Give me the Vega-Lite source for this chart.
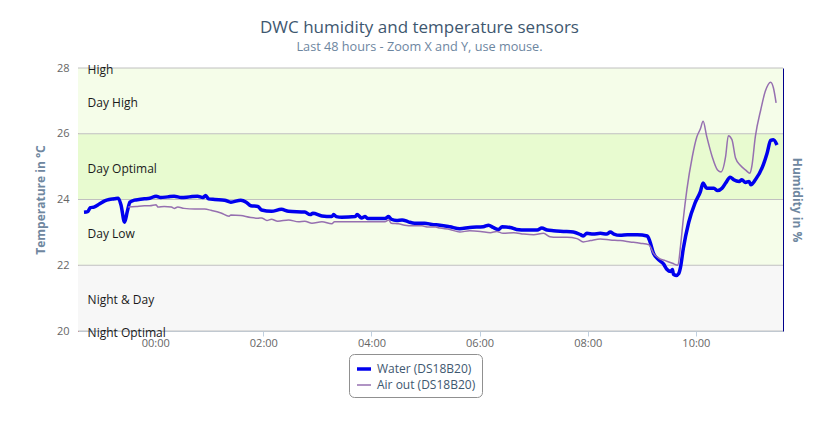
{
  "$schema": "https://vega.github.io/schema/vega-lite/v6.json",
  "width": 705,
  "height": 263,
  "autosize": {"type": "none"},
  "padding": {"left": 78, "top": 68, "right": 52, "bottom": 96},
  "background": "white",
  "config": {"view": {"stroke": null}},
  "title": {
    "text": "DWC humidity and temperature sensors",
    "subtitle": "Last 48 hours - Zoom X and Y, use mouse.",
    "fontSize": 17,
    "fontWeight": "normal",
    "font": "Open Sans",
    "color": "#3e576f",
    "subtitleFont": "Open Sans",
    "subtitleColor": "#6d869f",
    "subtitleFontSize": 12.7,
    "subtitlePadding": 4,
    "offset": 7,
    "dx": -11,
    "anchor": "middle"
  },
  "datasets": {
    "bandrows": [
      {"band": "Day High", "lo": 26, "hi": 28},
      {"band": "Day Optimal", "lo": 24, "hi": 26},
      {"band": "Day Low", "lo": 22, "hi": 24},
      {"band": "Night & Day", "lo": 20, "hi": 22}
    ],
    "gridrows": [{"v": 20}, {"v": 22}, {"v": 24}, {"v": 26}, {"v": 28}],
    "labelrows": [
      {"label": "High", "t": "2013-05-01T22:45", "v": 28},
      {"label": "Day High", "t": "2013-05-01T22:45", "v": 27},
      {"label": "Day Optimal", "t": "2013-05-01T22:45", "v": 25},
      {"label": "Day Low", "t": "2013-05-01T22:45", "v": 23},
      {"label": "Night & Day", "t": "2013-05-01T22:45", "v": 21},
      {"label": "Night Optimal", "t": "2013-05-01T22:45", "v": 20}
    ],
    "linerows": [
      {"s": "Water (DS18B20)", "t": "2013-05-01T22:41", "v": 23.61},
      {"s": "Water (DS18B20)", "t": "2013-05-01T22:45", "v": 23.63},
      {"s": "Water (DS18B20)", "t": "2013-05-01T22:48", "v": 23.75},
      {"s": "Water (DS18B20)", "t": "2013-05-01T22:52", "v": 23.77},
      {"s": "Water (DS18B20)", "t": "2013-05-01T22:58", "v": 23.86},
      {"s": "Water (DS18B20)", "t": "2013-05-01T23:04", "v": 23.96},
      {"s": "Water (DS18B20)", "t": "2013-05-01T23:09", "v": 24.0},
      {"s": "Water (DS18B20)", "t": "2013-05-01T23:15", "v": 24.02},
      {"s": "Water (DS18B20)", "t": "2013-05-01T23:19", "v": 24.04},
      {"s": "Water (DS18B20)", "t": "2013-05-01T23:22", "v": 23.84},
      {"s": "Water (DS18B20)", "t": "2013-05-01T23:26", "v": 23.31},
      {"s": "Water (DS18B20)", "t": "2013-05-01T23:29", "v": 23.63},
      {"s": "Water (DS18B20)", "t": "2013-05-01T23:32", "v": 23.92},
      {"s": "Water (DS18B20)", "t": "2013-05-01T23:37", "v": 23.98},
      {"s": "Water (DS18B20)", "t": "2013-05-01T23:42", "v": 24.0},
      {"s": "Water (DS18B20)", "t": "2013-05-01T23:48", "v": 24.02},
      {"s": "Water (DS18B20)", "t": "2013-05-01T23:54", "v": 24.04},
      {"s": "Water (DS18B20)", "t": "2013-05-02T00:01", "v": 24.1},
      {"s": "Water (DS18B20)", "t": "2013-05-02T00:06", "v": 24.06},
      {"s": "Water (DS18B20)", "t": "2013-05-02T00:14", "v": 24.08},
      {"s": "Water (DS18B20)", "t": "2013-05-02T00:21", "v": 24.1},
      {"s": "Water (DS18B20)", "t": "2013-05-02T00:29", "v": 24.06},
      {"s": "Water (DS18B20)", "t": "2013-05-02T00:38", "v": 24.08},
      {"s": "Water (DS18B20)", "t": "2013-05-02T00:47", "v": 24.1},
      {"s": "Water (DS18B20)", "t": "2013-05-02T00:53", "v": 24.06},
      {"s": "Water (DS18B20)", "t": "2013-05-02T00:56", "v": 24.12},
      {"s": "Water (DS18B20)", "t": "2013-05-02T00:59", "v": 24.02},
      {"s": "Water (DS18B20)", "t": "2013-05-02T01:06", "v": 24.0},
      {"s": "Water (DS18B20)", "t": "2013-05-02T01:17", "v": 23.98},
      {"s": "Water (DS18B20)", "t": "2013-05-02T01:24", "v": 23.92},
      {"s": "Water (DS18B20)", "t": "2013-05-02T01:35", "v": 23.98},
      {"s": "Water (DS18B20)", "t": "2013-05-02T01:41", "v": 23.92},
      {"s": "Water (DS18B20)", "t": "2013-05-02T01:46", "v": 23.81},
      {"s": "Water (DS18B20)", "t": "2013-05-02T01:54", "v": 23.79},
      {"s": "Water (DS18B20)", "t": "2013-05-02T01:58", "v": 23.68},
      {"s": "Water (DS18B20)", "t": "2013-05-02T02:09", "v": 23.64},
      {"s": "Water (DS18B20)", "t": "2013-05-02T02:20", "v": 23.7},
      {"s": "Water (DS18B20)", "t": "2013-05-02T02:28", "v": 23.64},
      {"s": "Water (DS18B20)", "t": "2013-05-02T02:46", "v": 23.62},
      {"s": "Water (DS18B20)", "t": "2013-05-02T02:52", "v": 23.54},
      {"s": "Water (DS18B20)", "t": "2013-05-02T02:55", "v": 23.58},
      {"s": "Water (DS18B20)", "t": "2013-05-02T03:05", "v": 23.5},
      {"s": "Water (DS18B20)", "t": "2013-05-02T03:16", "v": 23.48},
      {"s": "Water (DS18B20)", "t": "2013-05-02T03:18", "v": 23.54},
      {"s": "Water (DS18B20)", "t": "2013-05-02T03:21", "v": 23.48},
      {"s": "Water (DS18B20)", "t": "2013-05-02T03:27", "v": 23.46},
      {"s": "Water (DS18B20)", "t": "2013-05-02T03:42", "v": 23.48},
      {"s": "Water (DS18B20)", "t": "2013-05-02T03:44", "v": 23.54},
      {"s": "Water (DS18B20)", "t": "2013-05-02T03:49", "v": 23.44},
      {"s": "Water (DS18B20)", "t": "2013-05-02T03:53", "v": 23.48},
      {"s": "Water (DS18B20)", "t": "2013-05-02T03:56", "v": 23.42},
      {"s": "Water (DS18B20)", "t": "2013-05-02T04:15", "v": 23.42},
      {"s": "Water (DS18B20)", "t": "2013-05-02T04:19", "v": 23.48},
      {"s": "Water (DS18B20)", "t": "2013-05-02T04:22", "v": 23.4},
      {"s": "Water (DS18B20)", "t": "2013-05-02T04:28", "v": 23.36},
      {"s": "Water (DS18B20)", "t": "2013-05-02T04:34", "v": 23.38},
      {"s": "Water (DS18B20)", "t": "2013-05-02T04:41", "v": 23.32},
      {"s": "Water (DS18B20)", "t": "2013-05-02T04:48", "v": 23.28},
      {"s": "Water (DS18B20)", "t": "2013-05-02T04:59", "v": 23.28},
      {"s": "Water (DS18B20)", "t": "2013-05-02T05:07", "v": 23.24},
      {"s": "Water (DS18B20)", "t": "2013-05-02T05:16", "v": 23.22},
      {"s": "Water (DS18B20)", "t": "2013-05-02T05:27", "v": 23.17},
      {"s": "Water (DS18B20)", "t": "2013-05-02T05:38", "v": 23.11},
      {"s": "Water (DS18B20)", "t": "2013-05-02T05:49", "v": 23.15},
      {"s": "Water (DS18B20)", "t": "2013-05-02T06:04", "v": 23.17},
      {"s": "Water (DS18B20)", "t": "2013-05-02T06:10", "v": 23.22},
      {"s": "Water (DS18B20)", "t": "2013-05-02T06:15", "v": 23.15},
      {"s": "Water (DS18B20)", "t": "2013-05-02T06:21", "v": 23.09},
      {"s": "Water (DS18B20)", "t": "2013-05-02T06:25", "v": 23.17},
      {"s": "Water (DS18B20)", "t": "2013-05-02T06:34", "v": 23.15},
      {"s": "Water (DS18B20)", "t": "2013-05-02T06:41", "v": 23.09},
      {"s": "Water (DS18B20)", "t": "2013-05-02T06:52", "v": 23.07},
      {"s": "Water (DS18B20)", "t": "2013-05-02T07:04", "v": 23.07},
      {"s": "Water (DS18B20)", "t": "2013-05-02T07:09", "v": 23.13},
      {"s": "Water (DS18B20)", "t": "2013-05-02T07:15", "v": 23.07},
      {"s": "Water (DS18B20)", "t": "2013-05-02T07:22", "v": 23.05},
      {"s": "Water (DS18B20)", "t": "2013-05-02T07:33", "v": 23.03},
      {"s": "Water (DS18B20)", "t": "2013-05-02T07:44", "v": 23.01},
      {"s": "Water (DS18B20)", "t": "2013-05-02T07:52", "v": 22.93},
      {"s": "Water (DS18B20)", "t": "2013-05-02T07:55", "v": 22.89},
      {"s": "Water (DS18B20)", "t": "2013-05-02T07:59", "v": 22.97},
      {"s": "Water (DS18B20)", "t": "2013-05-02T08:06", "v": 22.95},
      {"s": "Water (DS18B20)", "t": "2013-05-02T08:14", "v": 22.97},
      {"s": "Water (DS18B20)", "t": "2013-05-02T08:21", "v": 22.95},
      {"s": "Water (DS18B20)", "t": "2013-05-02T08:25", "v": 23.01},
      {"s": "Water (DS18B20)", "t": "2013-05-02T08:29", "v": 22.95},
      {"s": "Water (DS18B20)", "t": "2013-05-02T08:36", "v": 22.91},
      {"s": "Water (DS18B20)", "t": "2013-05-02T08:44", "v": 22.93},
      {"s": "Water (DS18B20)", "t": "2013-05-02T08:55", "v": 22.93},
      {"s": "Water (DS18B20)", "t": "2013-05-02T09:06", "v": 22.89},
      {"s": "Water (DS18B20)", "t": "2013-05-02T09:09", "v": 22.72},
      {"s": "Water (DS18B20)", "t": "2013-05-02T09:13", "v": 22.36},
      {"s": "Water (DS18B20)", "t": "2013-05-02T09:19", "v": 22.16},
      {"s": "Water (DS18B20)", "t": "2013-05-02T09:24", "v": 22.04},
      {"s": "Water (DS18B20)", "t": "2013-05-02T09:28", "v": 21.87},
      {"s": "Water (DS18B20)", "t": "2013-05-02T09:32", "v": 21.81},
      {"s": "Water (DS18B20)", "t": "2013-05-02T09:34", "v": 21.87},
      {"s": "Water (DS18B20)", "t": "2013-05-02T09:35", "v": 21.73},
      {"s": "Water (DS18B20)", "t": "2013-05-02T09:38", "v": 21.69},
      {"s": "Water (DS18B20)", "t": "2013-05-02T09:41", "v": 21.75},
      {"s": "Water (DS18B20)", "t": "2013-05-02T09:43", "v": 21.95},
      {"s": "Water (DS18B20)", "t": "2013-05-02T09:46", "v": 22.5},
      {"s": "Water (DS18B20)", "t": "2013-05-02T09:52", "v": 23.3},
      {"s": "Water (DS18B20)", "t": "2013-05-02T09:59", "v": 23.89},
      {"s": "Water (DS18B20)", "t": "2013-05-02T10:05", "v": 24.24},
      {"s": "Water (DS18B20)", "t": "2013-05-02T10:08", "v": 24.5},
      {"s": "Water (DS18B20)", "t": "2013-05-02T10:12", "v": 24.34},
      {"s": "Water (DS18B20)", "t": "2013-05-02T10:20", "v": 24.34},
      {"s": "Water (DS18B20)", "t": "2013-05-02T10:24", "v": 24.27},
      {"s": "Water (DS18B20)", "t": "2013-05-02T10:29", "v": 24.34},
      {"s": "Water (DS18B20)", "t": "2013-05-02T10:33", "v": 24.5},
      {"s": "Water (DS18B20)", "t": "2013-05-02T10:38", "v": 24.68},
      {"s": "Water (DS18B20)", "t": "2013-05-02T10:42", "v": 24.6},
      {"s": "Water (DS18B20)", "t": "2013-05-02T10:48", "v": 24.55},
      {"s": "Water (DS18B20)", "t": "2013-05-02T10:51", "v": 24.6},
      {"s": "Water (DS18B20)", "t": "2013-05-02T10:55", "v": 24.52},
      {"s": "Water (DS18B20)", "t": "2013-05-02T10:59", "v": 24.55},
      {"s": "Water (DS18B20)", "t": "2013-05-02T11:01", "v": 24.45},
      {"s": "Water (DS18B20)", "t": "2013-05-02T11:06", "v": 24.6},
      {"s": "Water (DS18B20)", "t": "2013-05-02T11:14", "v": 25.0},
      {"s": "Water (DS18B20)", "t": "2013-05-02T11:19", "v": 25.41},
      {"s": "Water (DS18B20)", "t": "2013-05-02T11:23", "v": 25.8},
      {"s": "Water (DS18B20)", "t": "2013-05-02T11:26", "v": 25.82},
      {"s": "Water (DS18B20)", "t": "2013-05-02T11:30", "v": 25.66},
      {"s": "Air out (DS18B20)", "t": "2013-05-01T23:30", "v": 23.77},
      {"s": "Air out (DS18B20)", "t": "2013-05-01T23:39", "v": 23.79},
      {"s": "Air out (DS18B20)", "t": "2013-05-01T23:48", "v": 23.81},
      {"s": "Air out (DS18B20)", "t": "2013-05-01T23:54", "v": 23.81},
      {"s": "Air out (DS18B20)", "t": "2013-05-02T00:01", "v": 23.84},
      {"s": "Air out (DS18B20)", "t": "2013-05-02T00:03", "v": 23.77},
      {"s": "Air out (DS18B20)", "t": "2013-05-02T00:10", "v": 23.79},
      {"s": "Air out (DS18B20)", "t": "2013-05-02T00:18", "v": 23.77},
      {"s": "Air out (DS18B20)", "t": "2013-05-02T00:21", "v": 23.73},
      {"s": "Air out (DS18B20)", "t": "2013-05-02T00:25", "v": 23.77},
      {"s": "Air out (DS18B20)", "t": "2013-05-02T00:32", "v": 23.73},
      {"s": "Air out (DS18B20)", "t": "2013-05-02T00:44", "v": 23.71},
      {"s": "Air out (DS18B20)", "t": "2013-05-02T00:55", "v": 23.71},
      {"s": "Air out (DS18B20)", "t": "2013-05-02T01:02", "v": 23.67},
      {"s": "Air out (DS18B20)", "t": "2013-05-02T01:13", "v": 23.59},
      {"s": "Air out (DS18B20)", "t": "2013-05-02T01:22", "v": 23.49},
      {"s": "Air out (DS18B20)", "t": "2013-05-02T01:24", "v": 23.53},
      {"s": "Air out (DS18B20)", "t": "2013-05-02T01:35", "v": 23.51},
      {"s": "Air out (DS18B20)", "t": "2013-05-02T01:46", "v": 23.45},
      {"s": "Air out (DS18B20)", "t": "2013-05-02T01:54", "v": 23.43},
      {"s": "Air out (DS18B20)", "t": "2013-05-02T01:58", "v": 23.44},
      {"s": "Air out (DS18B20)", "t": "2013-05-02T02:04", "v": 23.36},
      {"s": "Air out (DS18B20)", "t": "2013-05-02T02:09", "v": 23.4},
      {"s": "Air out (DS18B20)", "t": "2013-05-02T02:16", "v": 23.34},
      {"s": "Air out (DS18B20)", "t": "2013-05-02T02:28", "v": 23.38},
      {"s": "Air out (DS18B20)", "t": "2013-05-02T02:39", "v": 23.32},
      {"s": "Air out (DS18B20)", "t": "2013-05-02T02:46", "v": 23.34},
      {"s": "Air out (DS18B20)", "t": "2013-05-02T02:54", "v": 23.28},
      {"s": "Air out (DS18B20)", "t": "2013-05-02T03:05", "v": 23.32},
      {"s": "Air out (DS18B20)", "t": "2013-05-02T03:16", "v": 23.26},
      {"s": "Air out (DS18B20)", "t": "2013-05-02T03:19", "v": 23.32},
      {"s": "Air out (DS18B20)", "t": "2013-05-02T03:42", "v": 23.32},
      {"s": "Air out (DS18B20)", "t": "2013-05-02T04:04", "v": 23.32},
      {"s": "Air out (DS18B20)", "t": "2013-05-02T04:15", "v": 23.32},
      {"s": "Air out (DS18B20)", "t": "2013-05-02T04:19", "v": 23.38},
      {"s": "Air out (DS18B20)", "t": "2013-05-02T04:22", "v": 23.28},
      {"s": "Air out (DS18B20)", "t": "2013-05-02T04:30", "v": 23.26},
      {"s": "Air out (DS18B20)", "t": "2013-05-02T04:37", "v": 23.22},
      {"s": "Air out (DS18B20)", "t": "2013-05-02T04:45", "v": 23.2},
      {"s": "Air out (DS18B20)", "t": "2013-05-02T04:56", "v": 23.2},
      {"s": "Air out (DS18B20)", "t": "2013-05-02T05:03", "v": 23.16},
      {"s": "Air out (DS18B20)", "t": "2013-05-02T05:11", "v": 23.16},
      {"s": "Air out (DS18B20)", "t": "2013-05-02T05:16", "v": 23.13},
      {"s": "Air out (DS18B20)", "t": "2013-05-02T05:27", "v": 23.09},
      {"s": "Air out (DS18B20)", "t": "2013-05-02T05:38", "v": 23.01},
      {"s": "Air out (DS18B20)", "t": "2013-05-02T05:49", "v": 23.05},
      {"s": "Air out (DS18B20)", "t": "2013-05-02T06:01", "v": 23.03},
      {"s": "Air out (DS18B20)", "t": "2013-05-02T06:12", "v": 22.99},
      {"s": "Air out (DS18B20)", "t": "2013-05-02T06:19", "v": 23.03},
      {"s": "Air out (DS18B20)", "t": "2013-05-02T06:26", "v": 22.97},
      {"s": "Air out (DS18B20)", "t": "2013-05-02T06:38", "v": 22.99},
      {"s": "Air out (DS18B20)", "t": "2013-05-02T06:49", "v": 22.95},
      {"s": "Air out (DS18B20)", "t": "2013-05-02T07:00", "v": 22.93},
      {"s": "Air out (DS18B20)", "t": "2013-05-02T07:11", "v": 22.97},
      {"s": "Air out (DS18B20)", "t": "2013-05-02T07:18", "v": 22.87},
      {"s": "Air out (DS18B20)", "t": "2013-05-02T07:26", "v": 22.85},
      {"s": "Air out (DS18B20)", "t": "2013-05-02T07:37", "v": 22.85},
      {"s": "Air out (DS18B20)", "t": "2013-05-02T07:48", "v": 22.81},
      {"s": "Air out (DS18B20)", "t": "2013-05-02T07:55", "v": 22.71},
      {"s": "Air out (DS18B20)", "t": "2013-05-02T08:03", "v": 22.75},
      {"s": "Air out (DS18B20)", "t": "2013-05-02T08:14", "v": 22.8},
      {"s": "Air out (DS18B20)", "t": "2013-05-02T08:25", "v": 22.77},
      {"s": "Air out (DS18B20)", "t": "2013-05-02T08:36", "v": 22.75},
      {"s": "Air out (DS18B20)", "t": "2013-05-02T08:47", "v": 22.71},
      {"s": "Air out (DS18B20)", "t": "2013-05-02T08:58", "v": 22.67},
      {"s": "Air out (DS18B20)", "t": "2013-05-02T09:08", "v": 22.62},
      {"s": "Air out (DS18B20)", "t": "2013-05-02T09:13", "v": 22.36},
      {"s": "Air out (DS18B20)", "t": "2013-05-02T09:19", "v": 22.21},
      {"s": "Air out (DS18B20)", "t": "2013-05-02T09:26", "v": 22.14},
      {"s": "Air out (DS18B20)", "t": "2013-05-02T09:34", "v": 22.06},
      {"s": "Air out (DS18B20)", "t": "2013-05-02T09:40", "v": 22.0},
      {"s": "Air out (DS18B20)", "t": "2013-05-02T09:43", "v": 22.6},
      {"s": "Air out (DS18B20)", "t": "2013-05-02T09:46", "v": 23.4},
      {"s": "Air out (DS18B20)", "t": "2013-05-02T09:50", "v": 24.3},
      {"s": "Air out (DS18B20)", "t": "2013-05-02T09:56", "v": 25.3},
      {"s": "Air out (DS18B20)", "t": "2013-05-02T10:01", "v": 25.9},
      {"s": "Air out (DS18B20)", "t": "2013-05-02T10:05", "v": 26.15},
      {"s": "Air out (DS18B20)", "t": "2013-05-02T10:08", "v": 26.38},
      {"s": "Air out (DS18B20)", "t": "2013-05-02T10:12", "v": 25.92},
      {"s": "Air out (DS18B20)", "t": "2013-05-02T10:18", "v": 25.31},
      {"s": "Air out (DS18B20)", "t": "2013-05-02T10:24", "v": 24.9},
      {"s": "Air out (DS18B20)", "t": "2013-05-02T10:28", "v": 24.84},
      {"s": "Air out (DS18B20)", "t": "2013-05-02T10:33", "v": 25.31},
      {"s": "Air out (DS18B20)", "t": "2013-05-02T10:36", "v": 25.94},
      {"s": "Air out (DS18B20)", "t": "2013-05-02T10:40", "v": 25.82},
      {"s": "Air out (DS18B20)", "t": "2013-05-02T10:44", "v": 25.26},
      {"s": "Air out (DS18B20)", "t": "2013-05-02T10:49", "v": 25.05},
      {"s": "Air out (DS18B20)", "t": "2013-05-02T10:55", "v": 24.9},
      {"s": "Air out (DS18B20)", "t": "2013-05-02T11:00", "v": 24.8},
      {"s": "Air out (DS18B20)", "t": "2013-05-02T11:02", "v": 25.0},
      {"s": "Air out (DS18B20)", "t": "2013-05-02T11:06", "v": 25.92},
      {"s": "Air out (DS18B20)", "t": "2013-05-02T11:12", "v": 26.73},
      {"s": "Air out (DS18B20)", "t": "2013-05-02T11:17", "v": 27.29},
      {"s": "Air out (DS18B20)", "t": "2013-05-02T11:23", "v": 27.57},
      {"s": "Air out (DS18B20)", "t": "2013-05-02T11:26", "v": 27.4},
      {"s": "Air out (DS18B20)", "t": "2013-05-02T11:29", "v": 26.94}
    ]
  },
  "layer": [
    {
      "data": {"name": "bandrows"},
      "mark": {"type": "rect"},
      "encoding": {
        "y": {
          "field": "lo",
          "type": "quantitative",
          "scale": {"domain": [20, 28], "nice": false, "zero": false},
          "axis": {
            "orient": "left",
            "values": [20, 22, 24, 26, 28],
            "grid": false,
            "ticks": false,
            "labelColor": "#666666",
            "labelFontSize": 11,
            "labelFont": "Open Sans",
            "labelPadding": 9,
            "labelFlush": false,
            "labelOverlap": false,
            "domainColor": "#c00000",
            "title": "Temperature in °C",
            "titleColor": "#6f87a0",
            "titleFontWeight": "bold",
            "titleFontSize": 12,
            "titleFont": "Open Sans",
            "titlePadding": 9
          }
        },
        "y2": {"field": "hi"},
        "fill": {
          "field": "band",
          "type": "nominal",
          "scale": {
            "domain": ["Day High", "Day Optimal", "Day Low", "Night & Day"],
            "range": ["#f5fde9", "#e8fbd0", "#f5fde9", "#f7f7f7"]
          },
          "legend": null
        }
      }
    },
    {
      "data": {"name": "gridrows"},
      "mark": {"type": "rule", "color": "#c0c0c0", "strokeWidth": 1},
      "encoding": {
        "y": {
          "field": "v",
          "type": "quantitative",
          "scale": {"domain": [20, 28], "nice": false, "zero": false},
          "axis": {
            "orient": "right",
            "labels": false,
            "ticks": false,
            "grid": false,
            "domainColor": "#00008b",
            "title": "Humidity in %",
            "titleColor": "#6f87a0",
            "titleFontWeight": "bold",
            "titleFontSize": 12,
            "titleFont": "Open Sans",
            "titlePadding": 6
          }
        }
      }
    },
    {
      "data": {"name": "linerows"},
      "mark": {"type": "line", "interpolate": "monotone"},
      "encoding": {
        "x": {
          "field": "t",
          "type": "temporal",
          "title": null,
          "scale": {"padding": 6},
          "axis": {
            "format": "%H:%M",
            "values": [
              {"year": 2013, "month": 5, "date": 2, "hours": 0},
              {"year": 2013, "month": 5, "date": 2, "hours": 2},
              {"year": 2013, "month": 5, "date": 2, "hours": 4},
              {"year": 2013, "month": 5, "date": 2, "hours": 6},
              {"year": 2013, "month": 5, "date": 2, "hours": 8},
              {"year": 2013, "month": 5, "date": 2, "hours": 10}
            ],
            "labelColor": "#666666",
            "labelFontSize": 11,
            "labelFont": "Open Sans",
            "domainColor": "#c0d0e0",
            "tickColor": "#c0d0e0",
            "tickSize": 5,
            "labelPadding": 1,
            "grid": false,
            "labelFlush": false
          }
        },
        "y": {
          "field": "v",
          "type": "quantitative",
          "scale": {"domain": [20, 28], "nice": false, "zero": false},
          "axis": null
        },
        "color": {
          "field": "s",
          "type": "nominal",
          "scale": {
            "domain": ["Water (DS18B20)", "Air out (DS18B20)"],
            "range": ["#0000ee", "#9670b0"]
          },
          "legend": {
            "title": null,
            "orient": "none",
            "legendX": 271,
            "legendY": 286,
            "direction": "vertical",
            "strokeColor": "#909090",
            "cornerRadius": 5,
            "padding": 6,
            "fillColor": "white",
            "labelFontSize": 12,
            "labelFont": "Open Sans",
            "labelColor": "#3e576f",
            "symbolType": "stroke",
            "symbolSize": 196,
            "symbolStrokeWidth": 2.5,
            "rowPadding": 1
          }
        },
        "strokeWidth": {
          "field": "s",
          "type": "ordinal",
          "scale": {
            "domain": ["Water (DS18B20)", "Air out (DS18B20)"],
            "range": [3.5, 1.5]
          },
          "legend": null
        }
      }
    },
    {
      "data": {"name": "labelrows"},
      "mark": {"type": "text", "align": "left", "baseline": "middle", "dy": 2, "fontSize": 12, "font": "Open Sans", "color": "#1a1a1a"},
      "encoding": {
        "x": {"field": "t", "type": "temporal", "title": null},
        "y": {
          "field": "v",
          "type": "quantitative",
          "scale": {"domain": [20, 28], "nice": false, "zero": false},
          "axis": null
        },
        "text": {"field": "label"}
      }
    }
  ],
  "resolve": {"scale": {"y": "independent"}}
}
